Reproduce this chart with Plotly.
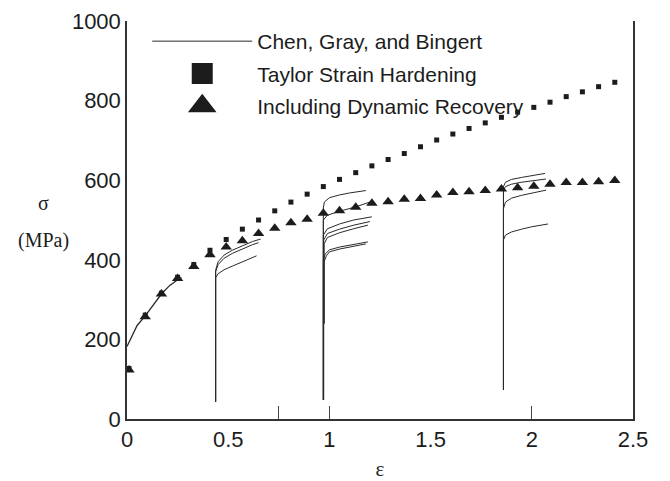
import plotly.graph_objects as go

# ---- data ----
strain_model = [0.01, 0.09, 0.17, 0.25, 0.33, 0.41, 0.49, 0.57, 0.65, 0.73, 0.81,
                0.89, 0.97, 1.05, 1.13, 1.21, 1.29, 1.37, 1.45, 1.53, 1.61, 1.69,
                1.77, 1.85, 1.93, 2.01, 2.09, 2.17, 2.25, 2.33, 2.41]
taylor = [127, 261, 316, 356, 388, 424, 451, 477, 500, 523, 545,
          565, 584, 602, 619, 636, 652, 667, 684, 701, 716, 730,
          744, 758, 771, 783, 796, 810, 822, 835, 846]
recovery = [123, 257, 314, 353, 383, 413, 432, 448, 466, 479, 493,
            502, 517, 523, 532, 542, 546, 552, 554, 563, 569, 571,
            574, 578, 581, 585, 590, 594, 594, 596, 599]

# Chen, Gray and Bingert experimental curves (strain, stress)
chen_0_x = [0.0, 0.02, 0.05, 0.09, 0.13, 0.17, 0.21, 0.25, 0.27]
chen_0_y = [182, 205, 235, 259, 288, 314, 335, 350, 355]

chen_1a_x = [0.438, 0.438, 0.45, 0.48, 0.52, 0.57, 0.62, 0.66]
chen_1a_y = [43, 374, 395, 412, 424, 436, 446, 452]
chen_1b_x = [0.438, 0.438, 0.45, 0.48, 0.52, 0.57, 0.62, 0.65]
chen_1b_y = [43, 370, 388, 404, 416, 428, 438, 443]
chen_1c_x = [0.438, 0.438, 0.45, 0.48, 0.52, 0.57, 0.62, 0.64]
chen_1c_y = [43, 355, 365, 375, 384, 395, 405, 410]

chen_2a_x = [0.97, 0.97, 0.975, 1.0, 1.05, 1.1, 1.18]
chen_2a_y = [48, 530, 545, 556, 563, 568, 574]
chen_2b_x = [0.97, 0.97, 0.99, 1.05, 1.13, 1.2]
chen_2b_y = [48, 500, 512, 522, 533, 545]
chen_2c_x = [0.97, 0.97, 0.99, 1.05, 1.12, 1.21]
chen_2c_y = [48, 462, 478, 490, 500, 508]
chen_2d_x = [0.972, 0.972, 0.99, 1.05, 1.12, 1.2]
chen_2d_y = [48, 450, 466, 477, 487, 496]
chen_2e_x = [0.974, 0.974, 0.99, 1.05, 1.12, 1.19]
chen_2e_y = [240, 440, 456, 468, 478, 487]
chen_2f_x = [0.97, 0.97, 0.98, 1.0, 1.05, 1.12, 1.19]
chen_2f_y = [48, 400, 415, 425, 432, 438, 445]
chen_2g_x = [0.974, 0.974, 0.985, 1.0, 1.05, 1.12, 1.18]
chen_2g_y = [240, 395, 410, 420, 427, 434, 440]

chen_3a_x = [1.86, 1.86, 1.87, 1.9, 1.95, 2.0, 2.065]
chen_3a_y = [73, 584, 595, 602, 607, 612, 617]
chen_3b_x = [1.86, 1.86, 1.87, 1.9, 1.95, 2.0, 2.07]
chen_3b_y = [73, 575, 584, 590, 595, 599, 603]
chen_3c_x = [1.86, 1.86, 1.87, 1.9, 1.95, 2.0, 2.07]
chen_3c_y = [73, 529, 545, 555, 562, 568, 575]
chen_3d_x = [1.86, 1.86, 1.87, 1.9, 1.95, 2.0, 2.08]
chen_3d_y = [73, 450, 462, 470, 477, 483, 490]

chen_curves = [
    (chen_0_x, chen_0_y), (chen_1a_x, chen_1a_y), (chen_1b_x, chen_1b_y),
    (chen_1c_x, chen_1c_y), (chen_2a_x, chen_2a_y), (chen_2b_x, chen_2b_y),
    (chen_2c_x, chen_2c_y), (chen_2d_x, chen_2d_y), (chen_2e_x, chen_2e_y),
    (chen_2f_x, chen_2f_y), (chen_2g_x, chen_2g_y), (chen_3a_x, chen_3a_y),
    (chen_3b_x, chen_3b_y), (chen_3c_x, chen_3c_y), (chen_3d_x, chen_3d_y),
]

x_ticks = [0, 0.5, 1, 1.5, 2, 2.5]
x_tick_labels = ["0", "0.5", "1", "1.5", "2", "2.5"]
y_ticks = [0, 200, 400, 600, 800, 1000]
y_tick_labels = ["0", "200", "400", "600", "800", "1000"]
inner_ticks = [0.75, 1, 2]

legend_names = ["Chen, Gray, and Bingert", "Taylor Strain Hardening",
                "Including Dynamic Recovery"]

INK = "#1c1c1c"
SERIF = "Liberation Serif, Times New Roman, serif"
fig = go.Figure()

for i, (cx, cy) in enumerate(chen_curves):
    fig.add_trace(go.Scatter(
        x=cx, y=cy, mode="lines",
        line=dict(color="#2a2a2a", width=1.3 if i == 0 else 1),
        showlegend=False, hoverinfo="skip"))

fig.add_trace(go.Scatter(
    x=strain_model, y=recovery, mode="markers",
    marker=dict(symbol="triangle-up", size=10, color=INK),
    showlegend=False))
fig.add_trace(go.Scatter(
    x=strain_model, y=taylor, mode="markers",
    marker=dict(symbol="square", size=5, color=INK),
    showlegend=False))

# legend entries
fig.add_trace(go.Scatter(
    x=[None], y=[None], mode="lines", name=legend_names[0],
    line=dict(color="#2a2a2a", width=1), legendgroup="a"))
fig.add_trace(go.Scatter(
    x=[None], y=[None], mode="markers", name=legend_names[1],
    marker=dict(symbol="square", size=16, color=INK,
                line=dict(color=INK, width=5)), legendgroup="b"))
fig.add_trace(go.Scatter(
    x=[None], y=[None], mode="markers", name=legend_names[2],
    marker=dict(symbol="triangle-up", size=16, color=INK,
                line=dict(color=INK, width=5)), legendgroup="c"))

# page body has an 8px default margin, so the figure is sized to fit inside
fig.update_layout(
    width=662, height=473,
    margin=dict(l=119, r=37, t=13, b=62, autoexpand=False),
    paper_bgcolor="white", plot_bgcolor="white",
    font=dict(family="Liberation Sans, Arial, sans-serif", size=22, color=INK),
    showlegend=True,
    legend=dict(x=0.04, y=1.0, xanchor="left", yanchor="top",
                bgcolor="rgba(0,0,0,0)", font=dict(size=21, color=INK),
                tracegroupgap=2, itemwidth=100, traceorder="grouped"),
    xaxis=dict(range=[0, 2.5], tickvals=x_ticks, ticktext=x_tick_labels,
               showgrid=False, zeroline=False, showline=True, automargin=False,
               linecolor="#333", linewidth=1.5, ticks="",
               title=dict(text="ε", font=dict(family=SERIF, size=21), standoff=10)),
    xaxis2=dict(range=[0, 2.5], overlaying="x", anchor="y", side="bottom",
                tickvals=inner_ticks, ticks="inside", ticklen=13, automargin=False,
                tickcolor="#444", tickwidth=1, showticklabels=False,
                showgrid=False, zeroline=False, showline=False),
    yaxis=dict(range=[0, 1000], tickvals=y_ticks, ticktext=y_tick_labels,
               showgrid=False, zeroline=False, showline=True, mirror=True,
               automargin=False, linecolor="#333", linewidth=1.5, ticks=""),
)

fig.add_trace(go.Scatter(x=[None], y=[None], xaxis="x2", showlegend=False))

fig.add_annotation(text="σ", xref="paper", yref="paper",
                   x=(43 - 127) / 506, y=(419 - 203) / 398,
                   showarrow=False, xanchor="center", yanchor="middle",
                   font=dict(family=SERIF, size=20, color=INK))
fig.add_annotation(text="(MPa)", xref="paper", yref="paper",
                   x=(43 - 127) / 506, y=(419 - 240) / 398,
                   showarrow=False, xanchor="center", yanchor="middle",
                   font=dict(family=SERIF, size=20, color=INK))

fig.write_html("out.html")
